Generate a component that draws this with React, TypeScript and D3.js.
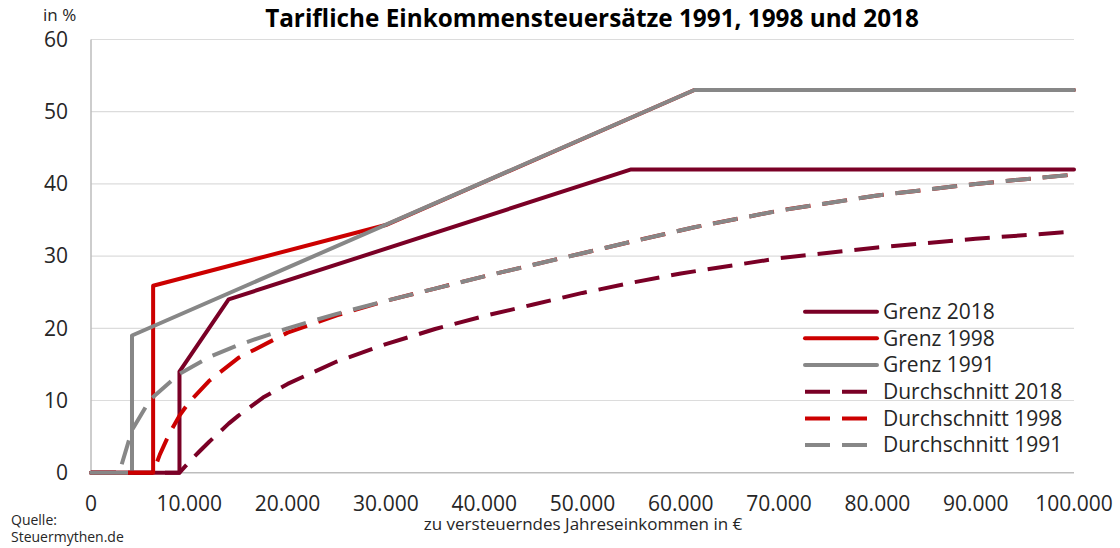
import React from "react";
import * as d3 from "d3";

// ---- data (income in €, rate in %) ----
const grenz2018X = [0, 9000, 9000, 14000, 54950, 100000];
const grenz2018Y = [0, 0, 14, 24, 42, 42];

const grenz1998X = [0, 6320, 6320, 29980, 61380, 100000];
const grenz1998Y = [0, 0, 25.9, 34.3, 53, 53];

const grenz1991X = [0, 4170, 4170, 61380, 100000];
const grenz1991Y = [0, 0, 19, 53, 53];

const durch2018X = [0, 9000, 10000, 11000, 12000, 14000, 15000, 17500, 20000, 25000, 30000, 35000, 40000, 45000, 50000, 54950, 60000, 70000, 80000, 90000, 100000];
const durch2018Y = [0, 0, 1.5, 2.9, 4.25, 6.8, 7.9, 10.4, 12.3, 15.4, 17.8, 19.9, 21.7, 23.3, 24.9, 26.3, 27.6, 29.7, 31.2, 32.4, 33.4];

const durch1998X = [0, 6320, 7000, 8000, 9000, 10000, 12000, 15000, 20000, 25000, 30000, 35000, 40000, 45000, 50000, 55000, 61380, 70000, 80000, 90000, 100000];
const durch1998Y = [0, 0, 2.5, 5.5, 7.9, 9.8, 12.7, 15.9, 19.4, 21.8, 23.8, 25.5, 27.2, 28.8, 30.4, 32.0, 34.0, 36.3, 38.4, 40.0, 41.3];

const durch1991X = [0, 2870, 4170, 6000, 9000, 12000, 15000, 20000, 25000, 30000, 35000, 40000, 45000, 50000, 55000, 61380, 70000, 80000, 90000, 100000];
const durch1991Y = [0, 0, 5.9, 10.1, 13.7, 16.0, 17.7, 20.0, 22.0, 23.8, 25.5, 27.2, 28.8, 30.4, 32.0, 34.0, 36.3, 38.4, 40.0, 41.3];

const seriesNames = ["Grenz 2018", "Grenz 1998", "Grenz 1991", "Durchschnitt 2018", "Durchschnitt 1998", "Durchschnitt 1991"];
const seriesColors = ["#7a0026", "#cc0000", "#878787", "#7a0026", "#cc0000", "#878787"];
const seriesDashed = [false, false, false, true, true, true];
const seriesXs = [grenz2018X, grenz1998X, grenz1991X, durch2018X, durch1998X, durch1991X];
const seriesYs = [grenz2018Y, grenz1998Y, grenz1991Y, durch2018Y, durch1998Y, durch1991Y];

const xTicks = [0, 10000, 20000, 30000, 40000, 50000, 60000, 70000, 80000, 90000, 100000];
const yTicks = [0, 10, 20, 30, 40, 50, 60];

const title = "Tarifliche Einkommensteuersätze 1991, 1998 und 2018";
const xTitle = "zu versteuerndes Jahreseinkommen in €";
const yUnit = "in %";
const source1 = "Quelle:";
const source2 = "Steuermythen.de";

const W = 1120;
const H = 548;
const FONT = "'Open Sans', sans-serif";

export default function App() {
  const x = d3.scaleLinear().domain([0, 100000]).range([91, 1074]);
  const y = d3.scaleLinear().domain([0, 60]).range([472.7, 39.5]);
  const fmt = (v: number) => d3.format(",")(v).replace(/,/g, ".");

  const series = seriesNames.map((name, i) => ({
    name,
    color: seriesColors[i],
    dashed: seriesDashed[i],
    pts: seriesXs[i].map((xv, j) => [xv, seriesYs[i][j]] as [number, number]),
  }));

  const line = d3
    .line<[number, number]>()
    .x((d) => x(d[0]))
    .y((d) => y(d[1]));

  const legendX0 = 805;
  const legendY0 = 311.7;
  const legendStep = 26.67;

  return (
    <svg
      width={W}
      height={H}
      style={{ position: "absolute", left: 0, top: 0, background: "#fff" }}
      fontFamily={FONT}
    >
      <rect x={0} y={0} width={W} height={H} fill="#fff" />
      {/* gridlines */}
      {yTicks.filter((t) => t > 0).map((t) => (
        <line key={t} x1={x(0)} x2={x(100000)} y1={y(t)} y2={y(t)} stroke="#dcdcdc" strokeWidth={1.2} />
      ))}
      {/* axes */}
      <line x1={x(0)} x2={x(0)} y1={y(60)} y2={y(0)} stroke="#bdbdbd" strokeWidth={1.5} />
      <line x1={x(0)} x2={x(100000)} y1={y(0)} y2={y(0)} stroke="#bdbdbd" strokeWidth={1.5} />

      {/* y tick labels */}
      {yTicks.map((t) => (
        <text key={t} x={68} y={y(t)} dy="0.35em" textAnchor="end" fontSize={21} fill="#262626">
          {t}
        </text>
      ))}
      {/* x tick labels */}
      {xTicks.map((t) => (
        <text key={t} x={x(t)} y={510.5} textAnchor="middle" fontSize={21} fill="#262626">
          {fmt(t)}
        </text>
      ))}

      {/* series */}
      {series.map((s) => (
        <path
          key={s.name}
          d={line(s.pts) || ""}
          fill="none"
          stroke={s.color}
          strokeWidth={4}
          strokeDasharray={s.dashed ? "25 12" : undefined}
          strokeLinejoin="round"
          strokeLinecap={s.dashed ? "butt" : "round"}
        />
      ))}

      {/* legend */}
      {series.map((s, i) => (
        <g key={s.name} transform={`translate(${legendX0},${legendY0 + i * legendStep})`}>
          <line
            x1={0}
            x2={72}
            y1={0}
            y2={0}
            stroke={s.color}
            strokeWidth={4}
            strokeDasharray={s.dashed ? "25 12" : undefined}
            strokeLinecap={s.dashed ? "butt" : "round"}
          />
          <text x={78} y={0} dy="0.35em" fontSize={21} fill="#262626">
            {s.name}
          </text>
        </g>
      ))}

      {/* titles */}
      <text x={592} y={27} textAnchor="middle" fontSize={24.3} fontWeight="bold" fill="#000">
        {title}
      </text>
      <text x={43} y={21} fontSize={17} fill="#262626">
        {yUnit}
      </text>
      <text x={583} y={529.5} textAnchor="middle" fontSize={17} fill="#262626">
        {xTitle}
      </text>
      <text x={11} y={525} fontSize={14} fill="#262626">
        {source1}
      </text>
      <text x={11} y={542} fontSize={14} fill="#262626">
        {source2}
      </text>
    </svg>
  );
}
